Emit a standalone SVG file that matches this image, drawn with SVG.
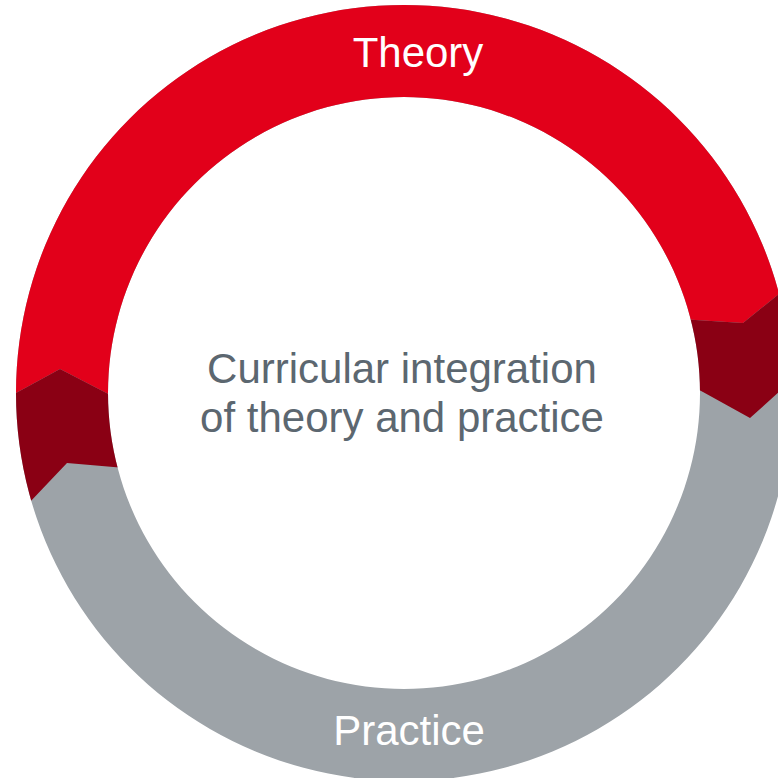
<svg xmlns="http://www.w3.org/2000/svg" width="778" height="778" viewBox="0 0 778 778">
  <style>
    .lbl { font-family: "Liberation Sans", Arial, sans-serif; font-size: 42px; text-anchor: middle; }
    .ring-label { fill: #ffffff; }
    .center-label { fill: #5c6770; }
  </style>
  <defs>
    <clipPath id="ring">
      <path clip-rule="evenodd" d="M404,5 A388,388 0 1,1 403.99,5 Z M404,97 A296,296 0 1,0 404.01,97 Z"/>
    </clipPath>
  </defs>
  <rect width="778" height="778" fill="#ffffff"/>
  <g id="ring-segments" clip-path="url(#ring)">
    <g id="practice">
      <rect x="0" y="0" width="800" height="800" fill="#9da3a8"/>
    </g>
    <g id="theory">
      <polygon fill="#e2001a" points="120,400 60,369 -10,407 -10,-10 800,-10 800,277 743,323 680,319"/>
    </g>
    <g id="overlap-left">
      <polygon fill="#8a0014" points="-10,407 60,369 120,400 125,468 67,463 10,523 -10,523"/>
    </g>
    <g id="overlap-right">
      <polygon fill="#8a0014" points="680,319 743,323 800,277 800,373 750,418 703,392 680,380"/>
    </g>
  </g>
  <g id="labels">
    <text class="lbl ring-label" x="418" y="67">Theory</text>
    <text class="lbl ring-label" x="409" y="745">Practice</text>
    <text class="lbl center-label" x="402" y="383">Curricular integration</text>
    <text class="lbl center-label" x="402" y="432">of theory and practice</text>
  </g>
</svg>
